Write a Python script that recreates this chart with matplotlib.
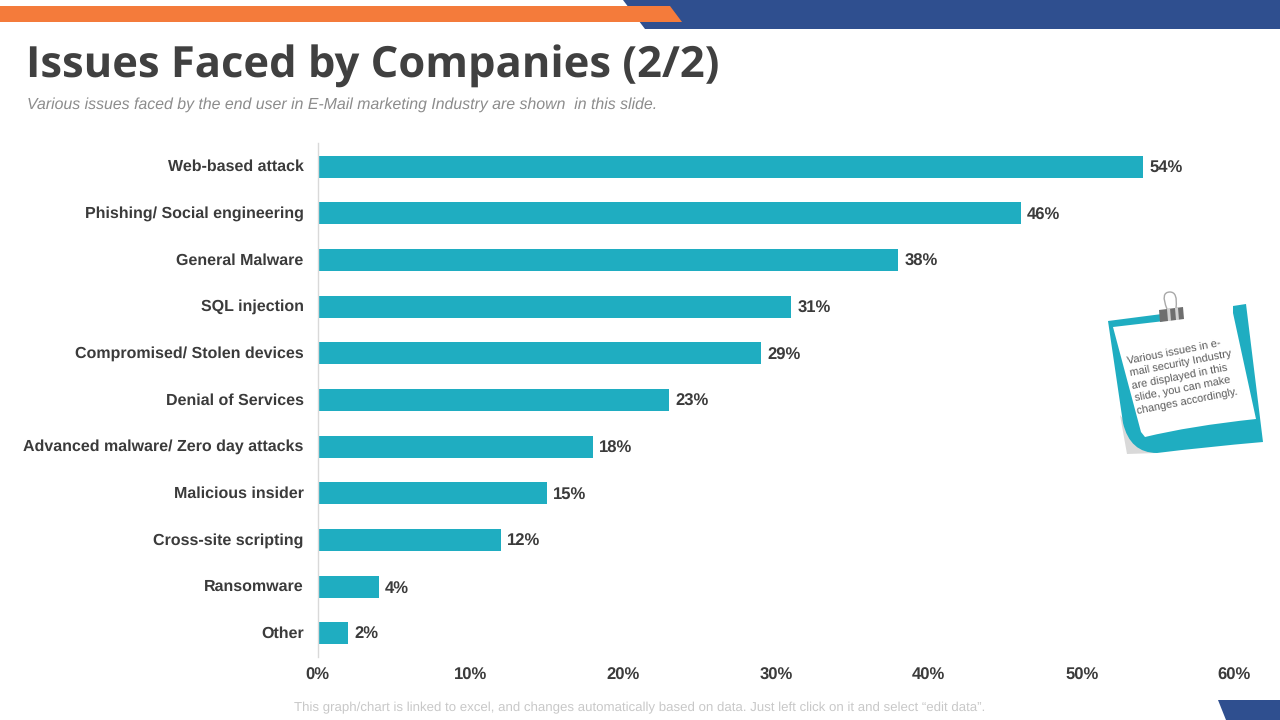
import matplotlib
matplotlib.use("Agg")
import matplotlib.pyplot as plt
from matplotlib.patches import Polygon, PathPatch
from matplotlib.path import Path

categories = ["Web-based attack", "Phishing/ Social engineering", "General Malware", "SQL injection",
              "Compromised/ Stolen devices", "Denial of Services", "Advanced malware/ Zero day attacks",
              "Malicious insider", "Cross-site scripting", "Ransomware", "Other"]
values = [54, 46, 38, 31, 29, 23, 18, 15, 12, 4, 2]
ticks = [0, 10, 20, 30, 40, 50, 60]

W, H = 1280, 720
TEAL = "#1FADC1"
BLUE = "#2F4F8F"
ORANGE = "#F47B3B"
DARK = "#3B3B3B"
plt.rcParams['font.family'] = ['Liberation Sans', 'DejaVu Sans']
plt.rcParams['text.hinting'] = 'none'

fig = plt.figure(figsize=(W / 100, H / 100), dpi=100, facecolor="white")

bg = fig.add_axes([0, 0, 1, 1], zorder=0)
bg.set_xlim(0, W)
bg.set_ylim(H, 0)
bg.axis("off")
bg.add_patch(Polygon([(623, 0), (1280, 0), (1280, 29), (645, 29)], fc=BLUE, ec="none"))
bg.add_patch(Polygon([(0, 6), (670, 6), (682, 22), (0, 22)], fc=ORANGE, ec="none"))
bg.add_patch(Polygon([(1218, 700), (1280, 700), (1280, 720), (1226, 720)], fc=BLUE, ec="none"))
bg.text(26, 66, "Issues Faced by Companies (2/2)", family="Open Sans", weight="bold", stretch="normal",
        fontsize=31.3, color="#404040", va="center", ha="left")
bg.text(27, 104.5, "Various issues faced by the end user in E-Mail marketing Industry are shown  in this slide.",
        style="italic", fontsize=11.4, color="#8C8C8C", va="center", ha="left")
bg.text(640, 707.5, "This graph/chart is linked to excel, and changes automatically based on data. Just left click on it and select \u201cedit data\u201d.",
        fontsize=9.5, color="#C8C8C8", va="center", ha="center")

left, right, top, bottom = 317.5, 1234.5, 143.5, 656.5
ax = fig.add_axes([left / W, 1 - bottom / H, (right - left) / W, (bottom - top) / H], zorder=1)
ax.patch.set_alpha(0)
pos = list(range(len(categories)))
ax.barh(pos, values, height=0.47, color=TEAL)
ax.set_xlim(0, 60)
ax.set_ylim(len(categories) - 0.5, -0.5)
ax.set_yticks([p - 0.03 for p in pos])
ax.set_yticklabels(categories, fontsize=11.5, weight="bold", color=DARK)
ax.set_xticks(ticks)
ax.set_xticklabels([f"{t}%" for t in ticks], fontsize=12, weight="bold", color=DARK)
ax.tick_params(axis="both", length=0)
ax.tick_params(axis="y", pad=10)
ax.tick_params(axis="x", pad=8)
for s in ["top", "right", "bottom"]:
    ax.spines[s].set_visible(False)
ax.spines["left"].set_color("#D9D9D9")
ax.spines["left"].set_linewidth(1)
for p, v in zip(pos, values):
    ax.annotate(f"{v}%", (v, p), xytext=(4.6, -1.2), textcoords="offset points", va="center", ha="left",
                fontsize=12, weight="bold", color=DARK)

note = fig.add_axes([0, 0, 1, 1], zorder=2)
note.set_xlim(0, W)
note.set_ylim(H, 0)
note.axis("off")
note.patch.set_alpha(0)
note.add_patch(Polygon([(1120, 415), (1140, 440), (1157, 453), (1127, 454)], fc="#D9D9D9", ec="none"))
M, L, C = Path.MOVETO, Path.LINETO, Path.CURVE3
tealpath = Path([(1108, 321), (1162, 314), (1163, 326), (1233, 320), (1233, 306), (1246, 304), (1263, 442),
                 (1205, 447), (1157, 453), (1130, 453), (1123, 423), (1108, 321)],
                [M, L, L, L, L, L, L, C, C, C, C, L])
note.add_patch(PathPatch(tealpath, fc=TEAL, ec="none"))
white = Path([(1113, 327), (1233, 313), (1256, 419), (1190, 426), (1145, 437), (1141, 432), (1113, 327)],
             [M, L, L, C, C, L, L])
note.add_patch(PathPatch(white, fc="white", ec="none"))
note.add_patch(Polygon([(1159, 310), (1183, 307), (1184, 319), (1160, 322)], fc="#6E6E6E", ec="none"))
note.add_patch(Polygon([(1167, 309), (1170, 308), (1171, 321), (1168, 321)], fc="#D0D0D0", ec="none"))
note.add_patch(Polygon([(1175, 308), (1178, 308), (1179, 320), (1176, 320)], fc="#D0D0D0", ec="none"))
loop = Path([(1167, 309), (1160, 292), (1170, 292), (1178, 292), (1176, 308)], [M, C, C, C, C])
note.add_patch(PathPatch(loop, fc="none", ec="#A8A8A8", lw=1))
note.text(1183, 377, "Various issues in e-\nmail security Industry\nare displayed in this\nslide, you can make\nchanges accordingly.",
          fontsize=7.9, color="#595959", rotation=11, rotation_mode="anchor", va="center", ha="center",
          multialignment="left", linespacing=1.3)

fig.savefig("out.png", dpi=100, facecolor="white")
